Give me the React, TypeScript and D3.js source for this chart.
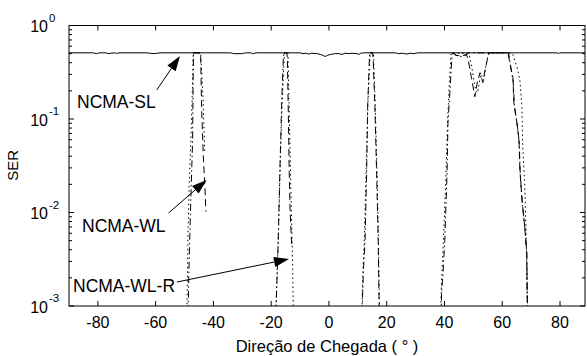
import React from 'react';
import * as d3 from 'd3';

type P = [number, number];

const W = 587;
const H = 356;

const xTicks = [-80, -60, -40, -20, 0, 20, 40, 60, 80];
const yDecades = [0, -1, -2, -3];
const xDomain: [number, number] = [-90, 88.65];
const yDomain: [number, number] = [1e-3, 1];

// NCMA-SL (solid)
const SL: P[] = [
  [-90, 0.51], [-81.5, 0.51], [-80.5, 0.5], [-79.5, 0.51], [-77, 0.51], [-76.5, 0.5], [-75.5, 0.505],
  [-74, 0.51], [-73.5, 0.5], [-73, 0.51], [-63, 0.51], [-62, 0.505], [-60.5, 0.5], [-59.5, 0.505],
  [-58.5, 0.51], [-34, 0.51], [-33, 0.5], [-30, 0.5], [-29, 0.51], [-27, 0.51], [-26.5, 0.5], [-25, 0.51],
  [-10, 0.51], [-9, 0.5], [-8, 0.505], [-7, 0.495], [-6, 0.505], [-4, 0.5], [-3, 0.49], [-2, 0.48],
  [-1.4, 0.465], [-0.5, 0.48], [0.5, 0.49], [2, 0.5], [3.5, 0.5], [4.5, 0.49], [5.5, 0.505], [7, 0.5],
  [8, 0.505], [9.7, 0.5], [10.3, 0.49], [11, 0.505], [12, 0.51], [23, 0.51], [24, 0.5], [25.5, 0.505],
  [27, 0.495], [28, 0.505], [29.5, 0.5], [30.8, 0.51], [79, 0.51], [79.4, 0.5], [79.8, 0.51], [88.65, 0.51],
];

// NCMA-WL (dashed); 0 = not plotted
const WL: P[] = [
  [-47.2, 0.51], [-44.6, 0.51], [-44.4, 0.45], [-44.1, 0.136], [-43.5, 0.04], [-42.9, 0.0175], [-42.6, 0.0102], [-42.4, 0],
  [-15.6, 0.51], [-14.6, 0.51], [-14.4, 0.45], [-14.1, 0.136], [-13.75, 0.027], [-13.5, 0.0115], [-13.1, 0.006], [-12.9, 0.0045], [-12.8, 0],
  [14.2, 0.51], [15.1, 0.51], [15.3, 0.45], [15.9, 0.136], [16.5, 0.027], [17.05, 0.005], [17.3, 0.0014], [17.5, 0.0006], [17.6, 0],
  [43, 0.51], [44, 0.48], [46, 0.47], [47.5, 0.49], [48.1, 0.45], [49.3, 0.28], [50.5, 0.173], [51.4, 0.25],
  [52.3, 0.313], [53.3, 0.245], [54.0, 0.33], [55.0, 0.454], [55.5, 0.51], [62, 0.51], [62.6, 0.4], [63.7, 0.28],
  [64, 0.15], [65.1, 0.09], [65.8, 0.06], [66.1, 0.029], [66.8, 0.014], [67.8, 0.007], [68.5, 0.0037],
  [68.6, 0.0014], [68.8, 0.0007], [69, 0],
];

// NCMA-WL-R (dotted)
const WLR: P[] = [
  [-49.3, 0.0006], [-49.0, 0.002], [-48.8, 0.006], [-48.4, 0.02], [-47.8, 0.06], [-47.3, 0.2], [-47.0, 0.51],
  [-44.4, 0.51], [-44.0, 0.3], [-43.6, 0.17], [-43.2, 0.07], [-43.0, 0.045], [-42.9, 0],
  [-18.4, 0.0008], [-18.0, 0.002], [-17.5, 0.006], [-16.9, 0.03], [-16.2, 0.15], [-15.4, 0.51],
  [-14.2, 0.51], [-13.9, 0.2], [-13.5, 0.05], [-13.0, 0.01], [-12.6, 0.003], [-12.4, 0.0012], [-12.3, 0.0006], [-12.2, 0],
  [11.3, 0.0006], [11.7, 0.002], [12.3, 0.006], [12.9, 0.03], [13.5, 0.15], [14.3, 0.51], [15.4, 0.51],
  [16.0, 0.15], [16.6, 0.03], [17.1, 0.006], [17.4, 0.0015], [17.6, 0.0006], [17.7, 0],
  [38.6, 0.0007], [38.9, 0.0015], [39.3, 0.003], [39.9, 0.008], [40.6, 0.03], [41.1, 0.1], [41.7, 0.25],
  [42.3, 0.51], [48.5, 0.5], [49.5, 0.35], [50.8, 0.2], [51.5, 0.19], [52.5, 0.3], [53.6, 0.26], [54.5, 0.4],
  [55.3, 0.51], [63.5, 0.51], [65.1, 0.36], [66.1, 0.26], [66.8, 0.136], [67.1, 0.05], [67.8, 0.019],
  [68.2, 0.007], [68.5, 0.0023], [68.8, 0.0005],
];

// fourth curve (dash-dot)
const DD: P[] = [
  [-48.9, 0.0006], [-48.7, 0.001], [-48.5, 0.0023], [-47.9, 0.0115], [-47.2, 0.06], [-47.0, 0.3], [-46.9, 0.51], [-44.6, 0.51], [-44.5, 0],
  [-18.5, 0.0006], [-18.35, 0.0009], [-17.9, 0.0023], [-17.55, 0.0051], [-17.0, 0.027], [-16.4, 0.136], [-15.8, 0.45], [-15.5, 0.51], [-14.5, 0.51], [-14.4, 0],
  [11.3, 0.0006], [11.5, 0.0009], [11.9, 0.0023], [12.5, 0.005], [13.05, 0.027], [13.4, 0.136], [14.0, 0.45], [14.2, 0.51], [15.2, 0.51], [15.3, 0],
  [38.8, 0.0008], [39.0, 0.0014], [39.5, 0.0023], [40.1, 0.005], [40.9, 0.027], [41.2, 0.09], [41.9, 0.2],
  [42.5, 0.43], [42.8, 0.51], [44, 0.48], [46, 0.465], [47.8, 0.49], [48, 0.51], [62.2, 0.51], [62.8, 0.38],
  [63.8, 0.25], [64.2, 0.14], [65.2, 0.085], [65.9, 0.055], [66.2, 0.027], [66.9, 0.013], [67.9, 0.0065],
  [68.5, 0.0035], [68.7, 0.0012], [68.9, 0.0006],
];

const FONT = '"Liberation Sans", Arial, Helvetica, sans-serif';

function Arrow({ x0, y0, x1, y1 }: { x0: number; y0: number; x1: number; y1: number }) {
  const dx = x1 - x0, dy = y1 - y0;
  const len = Math.hypot(dx, dy);
  const ux = dx / len, uy = dy / len;
  const L = 15, hw = 5;
  const bx = x1 - ux * L, by = y1 - uy * L;
  const px = -uy, py = ux;
  const pts = `${x1},${y1} ${bx + px * hw},${by + py * hw} ${bx - px * hw},${by - py * hw}`;
  return (
    <g>
      <line x1={x0} y1={y0} x2={bx} y2={by} stroke="#000" strokeWidth={1} />
      <polygon points={pts} fill="#000" />
    </g>
  );
}

export default function App() {
  const left = 69, right = 585, top = 25.5, bottom = 306;
  const x = d3.scaleLinear().domain(xDomain).range([left, right]);
  const y = d3.scaleLog().domain(yDomain).range([bottom, top]);
  const line = d3
    .line<P>()
    .defined((d) => d[1] > 0)
    .x((d) => x(d[0]))
    .y((d) => y(d[1]));

  const allTicks = y.ticks();
  const isMajor = (v: number) => Math.abs(Math.log10(v) - Math.round(Math.log10(v))) < 1e-6;

  return (
    <svg
      width={W}
      height={H}
      style={{ position: 'absolute', left: 0, top: 0, background: '#fff' }}
      fontFamily={FONT}
    >
      <defs>
        <clipPath id="plotclip">
          <rect x={left} y={top} width={right - left} height={bottom - top} />
        </clipPath>
      </defs>
      <rect x={0} y={0} width={W} height={H} fill="#fff" />
      <g clipPath="url(#plotclip)" fill="none" stroke="#000" strokeWidth={1}>
        <path d={line(SL) || ''} />
        <path d={line(DD) || ''} strokeDasharray="7,3,1.5,3" />
        <path d={line(WL) || ''} strokeDasharray="7,4" />
        <path d={line(WLR) || ''} strokeDasharray="1.5,3" />
      </g>
      {/* box */}
      <rect x={left} y={top} width={right - left} height={bottom - top} fill="none" stroke="#000" strokeWidth={1} />
      {/* x ticks */}
      {xTicks.map((t) => (
        <g key={'xt' + t}>
          <line x1={x(t)} x2={x(t)} y1={bottom} y2={bottom - 5} stroke="#000" />
          <line x1={x(t)} x2={x(t)} y1={top} y2={top + 5} stroke="#000" />
          <text x={x(t)} y={328} fontSize={16} textAnchor="middle" fill="#000">
            {t}
          </text>
        </g>
      ))}
      {/* y ticks */}
      {allTicks.map((v, i) => {
        const L = isMajor(v) ? 5 : 3;
        return (
          <g key={'yt' + i}>
            <line x1={left} x2={left + L} y1={y(v)} y2={y(v)} stroke="#000" />
            <line x1={right} x2={right - L} y1={y(v)} y2={y(v)} stroke="#000" />
          </g>
        );
      })}
      {yDecades.map((d) => (
        <g key={'yl' + d}>
          <text x={48} y={y(Math.pow(10, d)) + 6.5} fontSize={16} textAnchor="end" fill="#000">
            10
          </text>
          <text x={49} y={y(Math.pow(10, d)) - 4} fontSize={11.5} textAnchor="start" fill="#000">
            {d === 0 ? '0' : String(d)}
          </text>
        </g>
      ))}
      {/* axis labels */}
      <text x={327} y={352} fontSize={16.5} textAnchor="middle" fill="#000">
        Direção de Chegada ( ° )
      </text>
      <text
        transform={`translate(18, ${(top + bottom) / 2 - 0.5}) rotate(-90)`}
        fontSize={15}
        textAnchor="middle"
        fill="#000"
      >
        SER
      </text>
      {/* annotations */}
      <text x={77} y={107.5} fontSize={17.5} fill="#000">NCMA-SL</text>
      <Arrow x0={156.7} y0={90} x1={180} y1={56} />
      <text x={82} y={231.5} fontSize={17.5} fill="#000">NCMA-WL</text>
      <Arrow x0={168.5} y0={213} x1={206.7} y1={180} />
      <text x={73} y={291.5} fontSize={17.5} fill="#000">NCMA-WL-R</text>
      <Arrow x0={177} y0={282} x1={289} y1={259} />
    </svg>
  );
}
